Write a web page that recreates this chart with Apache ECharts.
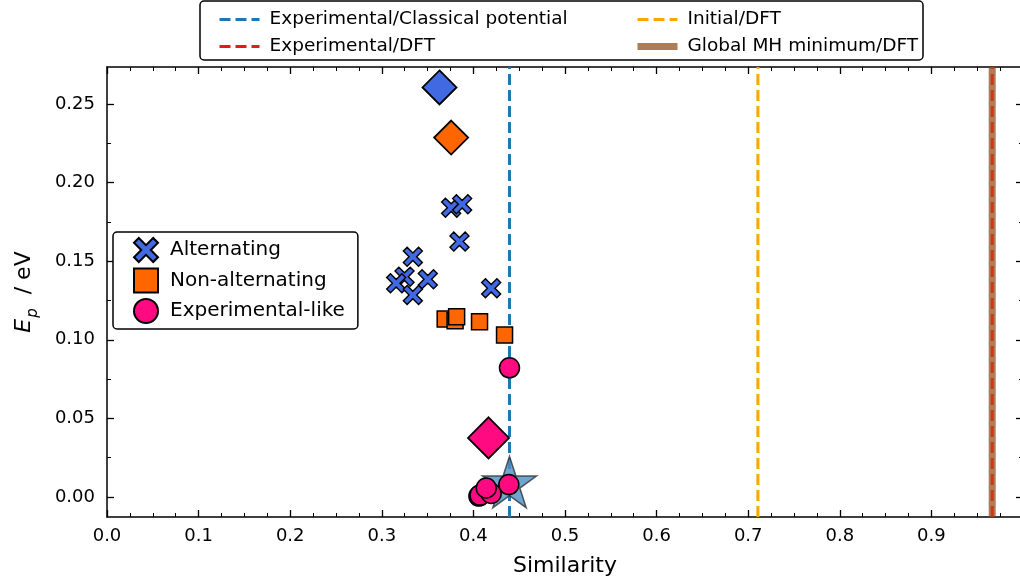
<!DOCTYPE html>
<html>
<head>
<meta charset="utf-8">
<script src="https://cdn.jsdelivr.net/npm/echarts@6/dist/echarts.min.js"></script>
<style>
  html, body { margin: 0; padding: 0; background: #fff; }
  #chart { width: 1020px; height: 585px; }
</style>
</head>
<body>
<div id="chart"></div>
<script>
// points
const altX = [0.3757, 0.3877, 0.3848, 0.3339, 0.3248, 0.3157, 0.3502, 0.3339, 0.4194]
const altY = [0.1841, 0.1863, 0.1625, 0.1529, 0.1402, 0.1360, 0.1385, 0.1285, 0.1328]
const nonAltX = [0.3692, 0.3800, 0.3817, 0.4067, 0.4340]
const nonAltY = [0.1132, 0.1122, 0.1147, 0.1115, 0.1030]
const expLikeX = [0.4060, 0.4072, 0.4194, 0.4140, 0.4387, 0.4394]
const expLikeY = [0.0006, 0.0012, 0.0022, 0.0057, 0.0079, 0.0822]
// big diamonds: alternating, non-alternating, experimental-like
const diamondX = [0.3630, 0.3757, 0.4165]
const diamondY = [0.2606, 0.2287, 0.0376]
const diamondColors = ['#4169E1', '#FF6600', '#FF0A80']
const starX = [0.4394]
const starY = [0.0078]
// vertical reference lines
const lineNames = ['Experimental/Classical potential', 'Experimental/DFT', 'Initial/DFT', 'Global MH minimum/DFT']
const lineX = [0.4394, 0.9664, 0.7106, 0.9664]

const xMin = 0, xMax = 1.0
const yMin = -0.01274, yMax = 0.2736
const yMajor = [0, 0.05, 0.10, 0.15, 0.20, 0.25]
const yMinor = [0.025, 0.075, 0.125, 0.175, 0.225]

const FONT = 'DejaVu Sans'
const pts = (xs, ys) => xs.map((x, i) => [x, ys[i]])

const xPath = 'path://M0,4L4,0L10,6L16,0L20,4L14,10L20,16L16,20L10,14L4,20L0,16L6,10Z'
const starPath = 'path://M100,0L122.45,69.1L195.1,69.1L136.33,111.8L158.8,180.9L100,138.2L41.2,180.9L63.67,111.8L4.9,69.1L77.55,69.1Z'

const vline = (name, x, color, width, dash, z, opacity) => ({
  name: name,
  type: 'line',
  symbol: 'none',
  silent: true,
  z: z,
  data: [[x, yMin], [x, yMax]],
  lineStyle: { color: color, width: width, type: dash, opacity: opacity },
  itemStyle: { color: color, opacity: opacity }
})

const chart = echarts.init(document.getElementById('chart'))

const yAxisBase = {
  type: 'value', min: yMin, max: yMax,
  splitLine: { show: false },
  axisLine: { show: true, onZero: false, lineStyle: { color: '#000', width: 1.5 } },
  axisLabel: { show: false }
}

// legend line icons; the red one is shown brighter than where it sits on the brown line
const legendLine = {
  'Experimental/DFT': { width: 3, color: '#e8191e' },
  'Global MH minimum/DFT': { width: 7 }
}
const lineLegend = (left, names) => ({
  left: left, top: 5, orient: 'vertical', itemGap: 8, itemWidth: 40, itemHeight: 14,
  data: names.map(n => ({ name: n, lineStyle: legendLine[n] || { width: 3 } })),
  itemStyle: { opacity: 0 },
  textStyle: { fontFamily: FONT, fontSize: 18.5, color: '#000', padding: [0, 0, 0, 5] }
})

const option = {
  animation: false,
  backgroundColor: '#fff',
  grid: { left: 107, top: 67, width: 916, height: 450, containLabel: false, outerBoundsMode: 'none' },
  graphic: [{
    type: 'rect', z: 0,
    shape: { x: 200, y: 1, width: 723, height: 59, r: 4 },
    style: { fill: '#fff', stroke: '#000', lineWidth: 1.5 }
  }],
  legend: [
    lineLegend(213, ['Experimental/Classical potential', 'Experimental/DFT']),
    lineLegend(629, ['Initial/DFT', 'Global MH minimum/DFT']),
    {
      left: 113, top: 232, orient: 'vertical', itemGap: 4.5, itemWidth: 24, itemHeight: 24,
      padding: [5, 13, 5, 20],
      borderColor: '#000', borderWidth: 1.5, borderRadius: 4, backgroundColor: '#fff',
      data: ['Alternating', 'Non-alternating', 'Experimental-like'],
      textStyle: { fontFamily: FONT, fontSize: 20, color: '#000', padding: [0, 0, 0, 7] }
    }
  ],
  xAxis: [
    {
      type: 'value', min: xMin, max: xMax, interval: 0.1,
      name: 'Similarity', nameLocation: 'middle', nameGap: 38,
      nameTextStyle: { fontFamily: FONT, fontSize: 22, color: '#000' },
      splitLine: { show: false },
      axisLine: { onZero: false, lineStyle: { color: '#000', width: 1.5 } },
      axisTick: { inside: true, length: 7, lineStyle: { color: '#000', width: 1.3 } },
      minorTick: { show: true, splitNumber: 4, length: 4, lineStyle: { color: '#000', width: 1 } },
      axisLabel: {
        margin: 10, fontFamily: FONT, fontSize: 18, color: '#000',
        formatter: v => (v > 0.999 ? '' : v.toFixed(1))
      }
    },
    {
      type: 'value', min: xMin, max: xMax, interval: 0.1, position: 'top',
      splitLine: { show: false },
      axisLine: { onZero: false, lineStyle: { color: '#000', width: 1.5 } },
      axisTick: { inside: true, length: 7, lineStyle: { color: '#000', width: 1.3 } },
      minorTick: { show: true, splitNumber: 4, length: 4, lineStyle: { color: '#000', width: 1 } },
      axisLabel: { show: false }
    }
  ],
  yAxis: [
    Object.assign({}, yAxisBase, {
      position: 'left',
      name: '{i|E}{s|p}{n|  / eV}', nameLocation: 'middle', nameGap: 72, nameRotate: 90,
      nameTextStyle: {
        fontFamily: FONT, fontSize: 22, color: '#000',
        rich: {
          i: { fontFamily: FONT, fontSize: 22, fontStyle: 'italic', color: '#000' },
          s: { fontFamily: FONT, fontSize: 15, fontStyle: 'italic', color: '#000', verticalAlign: 'bottom', padding: [0, 0, -6, 1] },
          n: { fontFamily: FONT, fontSize: 22, color: '#000' }
        }
      },
      axisTick: { show: true, inside: true, length: 7, customValues: yMajor, lineStyle: { color: '#000', width: 1.3 } },
      axisLabel: {
        show: true, margin: 12, customValues: yMajor,
        fontFamily: FONT, fontSize: 18, color: '#000',
        formatter: v => v.toFixed(2)
      }
    }),
    Object.assign({}, yAxisBase, {
      position: 'right',
      axisTick: { show: true, inside: true, length: 7, customValues: yMajor, lineStyle: { color: '#000', width: 1.3 } }
    }),
    Object.assign({}, yAxisBase, {
      position: 'left',
      axisLine: { show: false, onZero: false },
      axisTick: { show: true, inside: true, length: 4, customValues: yMinor, lineStyle: { color: '#000', width: 1 } }
    }),
    Object.assign({}, yAxisBase, {
      position: 'right',
      axisLine: { show: false, onZero: false },
      axisTick: { show: true, inside: true, length: 4, customValues: yMinor, lineStyle: { color: '#000', width: 1 } }
    })
  ],
  series: [
    vline(lineNames[0], lineX[0], '#1f77b4', 3, [11, 5], 2, 1),
    vline(lineNames[1], lineX[1], '#c63a1a', 3, [11, 5], 4, 1),
    vline(lineNames[2], lineX[2], '#FFA500', 3, [11, 5], 2, 1),
    vline(lineNames[3], lineX[3], '#8B4513', 7, 'solid', 3, 0.7),
    {
      name: 'star', type: 'scatter', z: 4,
      symbol: starPath, symbolSize: [54, 51.3], symbolOffset: [0, -2.7],
      data: pts(starX, starY),
      itemStyle: { color: '#4a8fc6', borderColor: '#333', borderWidth: 1.5 }
    },
    {
      name: 'Alternating', type: 'scatter', z: 5,
      symbol: xPath, symbolSize: 19,
      data: pts(altX, altY),
      itemStyle: { color: '#4169E1', borderColor: '#000', borderWidth: 1.4, opacity: 1 }
    },
    {
      name: 'Non-alternating', type: 'scatter', z: 5,
      symbol: 'rect', symbolSize: 16,
      data: pts(nonAltX, nonAltY),
      itemStyle: { color: '#FF6600', borderColor: '#000', borderWidth: 1.5, opacity: 1 }
    },
    {
      name: 'Experimental-like', type: 'scatter', z: 6,
      symbol: 'circle', symbolSize: 20,
      data: pts(expLikeX, expLikeY),
      itemStyle: { color: '#FF0A80', borderColor: '#000', borderWidth: 1.5, opacity: 1 }
    },
    {
      name: 'diamonds', type: 'scatter', z: 6,
      symbol: 'diamond',
      data: diamondX.map((x, i) => ({
        value: [x, diamondY[i]],
        symbolSize: i === 2 ? 41 : 34,
        itemStyle: { color: diamondColors[i] }
      })),
      itemStyle: { borderColor: '#000', borderWidth: 1.8, opacity: 1 }
    }
  ]
}

chart.setOption(option)
</script>
</body>
</html>
